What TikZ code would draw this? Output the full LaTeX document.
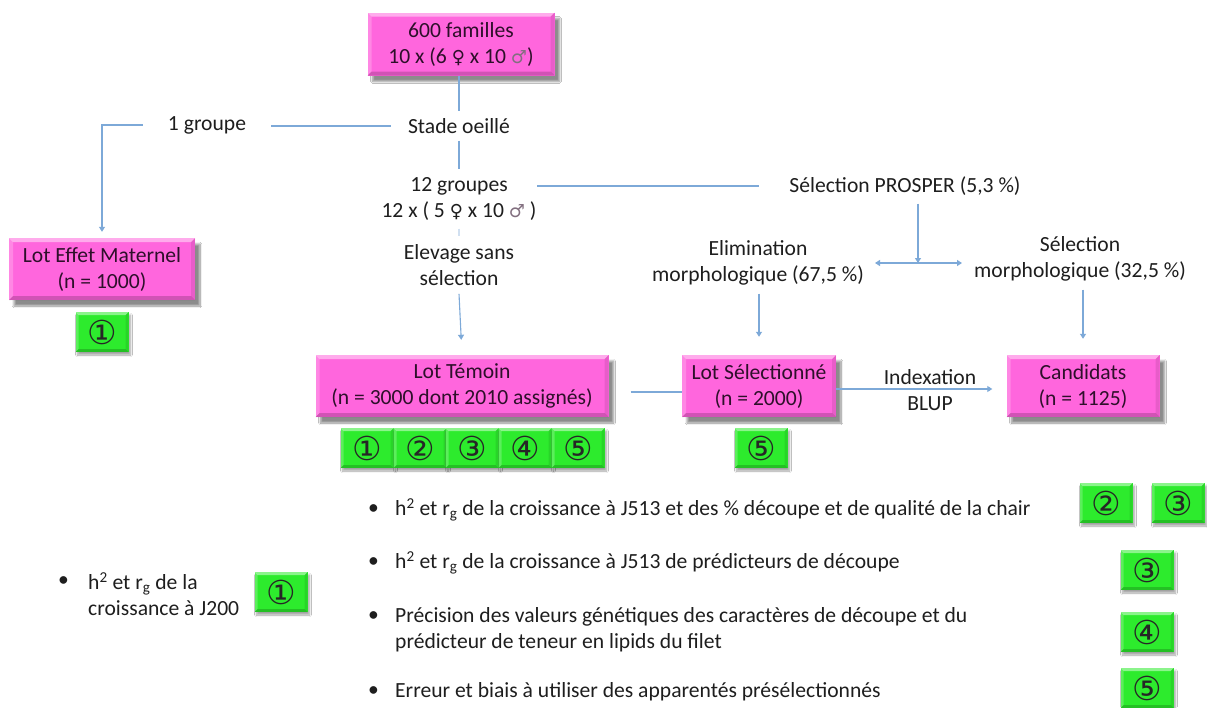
\documentclass[tikz,border=0pt]{standalone}
\usepackage{fontspec}
\setmainfont{Carlito}
\newfontfamily\symfont{DejaVu Sans}
\usetikzlibrary{arrows.meta,shadows,shadows.blur,calc}
\definecolor{pinkfill}{HTML}{FF66DD}
\definecolor{greenfill}{HTML}{2DEB2D}
\definecolor{linkblue}{HTML}{7DA9D8}
\definecolor{boxtext}{HTML}{2E0F2A}
\definecolor{plaintext}{HTML}{1E1E1E}
\newcommand\fem{{\symfont\fontsize{18}{18}\selectfont ♀}}
\newcommand\mal{{\symfont\fontsize{18}{18}\selectfont\color{boxtext!60} ♂}}
\newcommand\circd[1]{{\symfont\fontsize{33}{33}\selectfont #1}}
\tikzset{
  every node/.style={font=\fontsize{21.6}{26}\selectfont, text=plaintext},
  bevelled/.style={path picture={
    \path (path picture bounding box.north west) coordinate (pA)
          (path picture bounding box.south east) coordinate (pC);
    \coordinate (pB) at (pA -| pC);
    \coordinate (pD) at (pA |- pC);
    \fill[white,opacity=.45] (pA) -- (pB) -- ([xshift=-#1,yshift=-#1]pB) -- ([xshift=#1,yshift=-#1]pA) -- cycle;
    \fill[white,opacity=.22] (pA) -- ([xshift=#1,yshift=-#1]pA) -- ([xshift=#1,yshift=#1]pD) -- (pD) -- cycle;
    \fill[black,opacity=.18] (pD) -- ([xshift=#1,yshift=#1]pD) -- ([xshift=-#1,yshift=#1]pC) -- (pC) -- cycle;
    \fill[black,opacity=.09] (pC) -- ([xshift=-#1,yshift=#1]pC) -- ([xshift=-#1,yshift=-#1]pB) -- (pB) -- cycle;
  }},
  pinkbox/.style={fill=pinkfill, bevelled=4pt, align=center, text=boxtext,
    blur shadow={shadow xshift=5pt, shadow yshift=-6pt, shadow blur steps=10, shadow opacity=45}},
  greenbox/.style={fill=greenfill, bevelled=3pt, text=black!85, inner sep=0pt,
    minimum width=53pt, minimum height=40pt, font=\fontsize{33}{33}\selectfont,
    blur shadow={shadow xshift=2pt, shadow yshift=-3pt, shadow blur steps=6, shadow opacity=35}},
  lbl/.style={align=center, inner xsep=14pt, inner ysep=8pt},
  link/.style={draw=linkblue, line width=1.1pt},
  arr/.style={link, -{Triangle[width=6pt,length=5pt]}},
  bul/.style={anchor=west, inner sep=0pt},
  item/.style={anchor=west, inner sep=0pt, align=left},
}
\begin{document}
\begin{tikzpicture}[x=1pt,y=-1pt]
\useasboundingbox[fill=white] (0,0) rectangle (1207,707);

% top part
\node[pinkbox, minimum width=187pt, minimum height=63pt] (fam) at (461,44) {600 familles\\10 x (6 \fem{} x 10 \mal{})};
\node[lbl, inner xsep=17pt, inner ysep=7pt] (stade) at (459,126) {Stade oeillé};
\node[lbl, inner xsep=25pt] (grp1) at (207,125) {1 groupe};
\node[lbl] (g12) at (459,199) {12 groupes\\12 x ( 5 \fem{} x 10 \mal{} )};
\node[lbl] (elev) at (459,265) {Elevage sans\\sélection};
\node[lbl, inner xsep=30pt] (prosper) at (905,186) {Sélection PROSPER (5,3 \%)};
\node[lbl, inner xsep=4pt] (elim) at (758,263) {Elimination\\morphologique (67,5 \%)};
\node[lbl, inner xsep=4pt] (selm) at (1080,259) {Sélection\\morphologique (32,5 \%)};

% boxes
\node[pinkbox, minimum width=186pt, minimum height=62pt] (lem) at (102,269) {Lot Effet Maternel\\(n = 1000)};
\node[greenbox] (c1a) at (102,332) {\circd{①}};

\node[pinkbox, minimum width=293pt, minimum height=62pt] (temoin) at (462,386) {Lot Témoin\\(n = 3000 dont 2010 assignés)};
\node[greenbox] (r1) at (367,448) {\circd{①}};
\node[greenbox] (r2) at (420,448) {\circd{②}};
\node[greenbox] (r3) at (472,448) {\circd{③}};
\node[greenbox] (r4) at (525,448) {\circd{④}};
\node[greenbox] (r5) at (578,448) {\circd{⑤}};

\node[pinkbox, minimum width=154pt, minimum height=62pt] (lotsel) at (759,386) {Lot Sélectionné\\(n = 2000)};
\node[greenbox] (c5a) at (761,448) {\circd{⑤}};

\node[lbl] (index) at (930,390) {Indexation\\BLUP};
\node[pinkbox, minimum width=153pt, minimum height=62pt] (cand) at (1083,386) {Candidats\\(n = 1125)};

% connectors
\coordinate (g12r) at (537,186);
\coordinate (split) at (918,263);
\coordinate (ltip) at (875,263);
\coordinate (rtip) at (962,263);
\draw[link] (fam.south -| stade.north) -- (stade.north);
\draw[link] (stade.west) -- (grp1.east |- stade.west);
\draw[arr, shorten >=6pt] (grp1.west) -| (lem.north);
\draw[link] (stade.south) -- (g12.north);
\draw[link, opacity=.35] (g12.south) -- (elev.north);
\draw[arr, shorten >=15pt] (elev.south) -- (temoin.north);
\draw[link] (g12r) -- (prosper.west |- g12r);
\draw[arr] (prosper.south -| split) -- (split);
\draw[arr] (split) -- (ltip);
\draw[arr] (split) -- (rtip);
\draw[arr, shorten >=18pt] (elim.south -| lotsel) -- (lotsel.north);
\draw[arr, shorten >=16pt] (selm.south -| cand) -- (cand.north);
\draw[link] ([xshift=22pt,yshift=-6pt]temoin.east) -- ([yshift=-6pt]lotsel.west);
\draw[arr] ([yshift=-3pt]lotsel.east) -- ([xshift=-14pt,yshift=-3pt]cand.west);

% left bullet
\node[bul] (b0) at (58,582) {\textbullet};
\node[item] (t0) at (88,594) {h\textsuperscript{2} et r\textsubscript{g} de la\\croissance à J200};
\node[greenbox] (c1b) at (281,592) {\circd{①}};

% right bullets
\node[bul] (b1) at (368,510) {\textbullet};
\node[item] (t1) at (395,510) {h\textsuperscript{2} et r\textsubscript{g} de la croissance à J513 et des \% découpe et de qualité de la chair};
\node[greenbox] (c2b) at (1106,503) {\circd{②}};
\node[greenbox] (c3b) at (1178,503) {\circd{③}};

\node[bul] (b2) at (368,563) {\textbullet};
\node[item] (t2) at (395,563) {h\textsuperscript{2} et r\textsubscript{g} de la croissance à J513 de prédicteurs de découpe};
\node[greenbox] (c3c) at (1147,570) {\circd{③}};

\node[bul] (b3) at (368,617) {\textbullet};
\node[item] (t3) at (395,630) {Précision des valeurs génétiques des caractères de découpe et du\\prédicteur de teneur en lipids du filet};
\node[greenbox] (c4) at (1147,632) {\circd{④}};

\node[bul] (b4) at (368,692) {\textbullet};
\node[item] (t4) at (395,692) {Erreur et biais à utiliser des apparentés présélectionnés};
\node[greenbox] (c5b) at (1147,688) {\circd{⑤}};
\end{tikzpicture}
\end{document}
